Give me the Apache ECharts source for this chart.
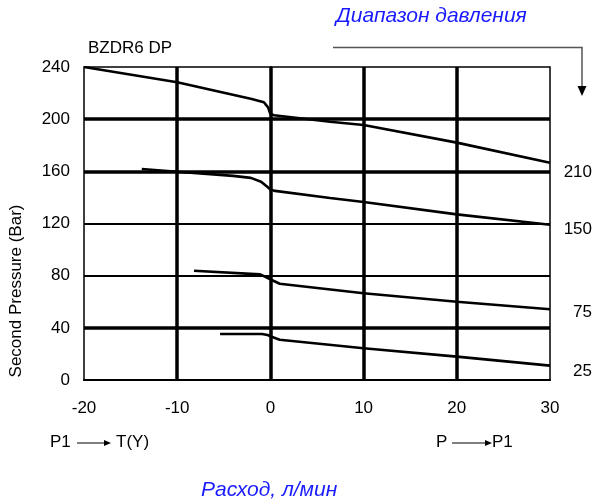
<!DOCTYPE html>
<html><head><meta charset="utf-8">
<script src="https://cdn.jsdelivr.net/npm/echarts@6/dist/echarts.min.js"></script>
<style>html,body{margin:0;padding:0;background:#fff}#c{width:595px;height:504px}</style>
</head><body><div id="c"></div>
<script>
// Flow (l/min) vs second pressure (bar), four pressure settings
const flow210 = [-20, -10, -2, -0.7, -0.25, 0, 0.4, 6.4, 10, 20, 30];
const pres210 = [240, 228.3, 215.5, 213, 209, 204, 203, 198, 195.5, 182, 166.6];
const flow150 = [-13.8, -10, -4, -2.1, -1, -0.4, 0, 0.5, 6.4, 10, 20, 30];
const pres150 = [161.8, 159.7, 156.5, 155, 152, 148.5, 146, 145, 139.5, 136.5, 127, 119];
const flow75 = [-8.2, -1.1, -0.5, 0.2, 1, 10, 20, 30];
const pres75 = [83.8, 81, 79, 76.5, 73.8, 66.5, 60, 54.2];
const flow25 = [-5.4, -0.9, -0.3, 0.2, 1, 10, 20, 30];
const pres25 = [35.3, 35.3, 34.5, 33, 30.9, 24.3, 17.9, 11];
const rangeLabels = ['210', '150', '75', '25'];
const xTicks = [-20, -10, 0, 10, 20, 30];
const yTicks = [0, 40, 80, 120, 160, 200, 240];
const thickGridY = [200, 160, 40];

const zip = (xs, ys) => xs.map((x, i) => [x, ys[i]]);
const FONT = 'Liberation Sans, Arial, sans-serif';
const lineSeries = (name, xs, ys) => ({
  name, type: 'line', data: zip(xs, ys), showSymbol: false, silent: true,
  lineStyle: { color: '#000', width: 2.6 }, z: 5
});

const chart = echarts.init(document.getElementById('c'), null, { renderer: 'canvas' });
const series = [
  lineSeries('210', flow210, pres210),
  lineSeries('150', flow150, pres150),
  lineSeries('75', flow75, pres75),
  lineSeries('25', flow25, pres25)
];
series[0].markLine = {
  silent: true, symbol: 'none', label: { show: false },
  lineStyle: { color: '#000', width: 3.5, type: 'solid' },
  data: thickGridY.map(v => ({ yAxis: v }))
};

const txt = (x, y, s, o) => Object.assign({ type: 'text', x, y,
  style: Object.assign({ text: s, font: '17px ' + FONT, fill: '#000', textVerticalAlign: 'middle' }, o || {}) });

chart.setOption({
  animation: false,
  grid: { left: 84, right: 45, top: 67, bottom: 124, show: true, borderColor: '#000', borderWidth: 1.5, backgroundColor: 'transparent' },
  xAxis: {
    type: 'value', min: xTicks[0], max: xTicks[xTicks.length - 1], interval: 10,
    axisLine: { show: true, onZero: false, lineStyle: { color: '#000', width: 2 } },
    axisTick: { show: false },
    axisLabel: { color: '#000', fontSize: 17, fontFamily: FONT, margin: 20 },
    splitLine: { show: true, showMinLine: false, showMaxLine: false, lineStyle: { color: '#000', width: 3.5 } }
  },
  yAxis: {
    type: 'value', min: yTicks[0], max: yTicks[yTicks.length - 1], interval: 40,
    axisLine: { show: true, lineStyle: { color: '#000', width: 2 } },
    axisTick: { show: false },
    axisLabel: { color: '#000', fontSize: 17, fontFamily: FONT, margin: 14 },
    splitLine: { show: true, showMinLine: false, showMaxLine: false, lineStyle: { color: '#000', width: 2.2 } }
  },
  series,
  graphic: [
    txt(88, 48, 'BZDR6 DP'),
    { type: 'text', x: 16, y: 291, rotation: Math.PI / 2,
      style: { text: 'Second Pressure (Bar)', font: '17px ' + FONT, fill: '#000', textAlign: 'center', textVerticalAlign: 'middle' } },
    txt(336, 16, 'Диапазон давления', { font: 'italic 21px ' + FONT, fill: '#1a1aff' }),
    txt(201, 490, 'Расход, л/мин', { font: 'italic 21px ' + FONT, fill: '#1a1aff' }),
    { type: 'polyline', shape: { points: [[333, 47.5], [582, 47.5], [582, 88]] }, style: { stroke: '#555', lineWidth: 1.5, fill: null } },
    { type: 'polygon', shape: { points: [[577.5, 86], [586.5, 86], [582, 96]] }, style: { fill: '#000' } },
    txt(592, 172, rangeLabels[0], { textAlign: 'right' }),
    txt(592, 229, rangeLabels[1], { textAlign: 'right' }),
    txt(592, 312, rangeLabels[2], { textAlign: 'right' }),
    txt(592, 371, rangeLabels[3], { textAlign: 'right' }),
    txt(50, 442, 'P1'),
    { type: 'line', shape: { x1: 77, y1: 443, x2: 106, y2: 443 }, style: { stroke: '#000', lineWidth: 1 } },
    { type: 'polygon', shape: { points: [[104, 440], [104, 446], [111, 443]] }, style: { fill: '#000' } },
    txt(116, 442, 'T(Y)'),
    txt(436, 442, 'P'),
    { type: 'line', shape: { x1: 452, y1: 443, x2: 487, y2: 443 }, style: { stroke: '#000', lineWidth: 1 } },
    { type: 'polygon', shape: { points: [[485, 440], [485, 446], [492, 443]] }, style: { fill: '#000' } },
    txt(492, 442, 'P1')
  ]
});
</script></body></html>
